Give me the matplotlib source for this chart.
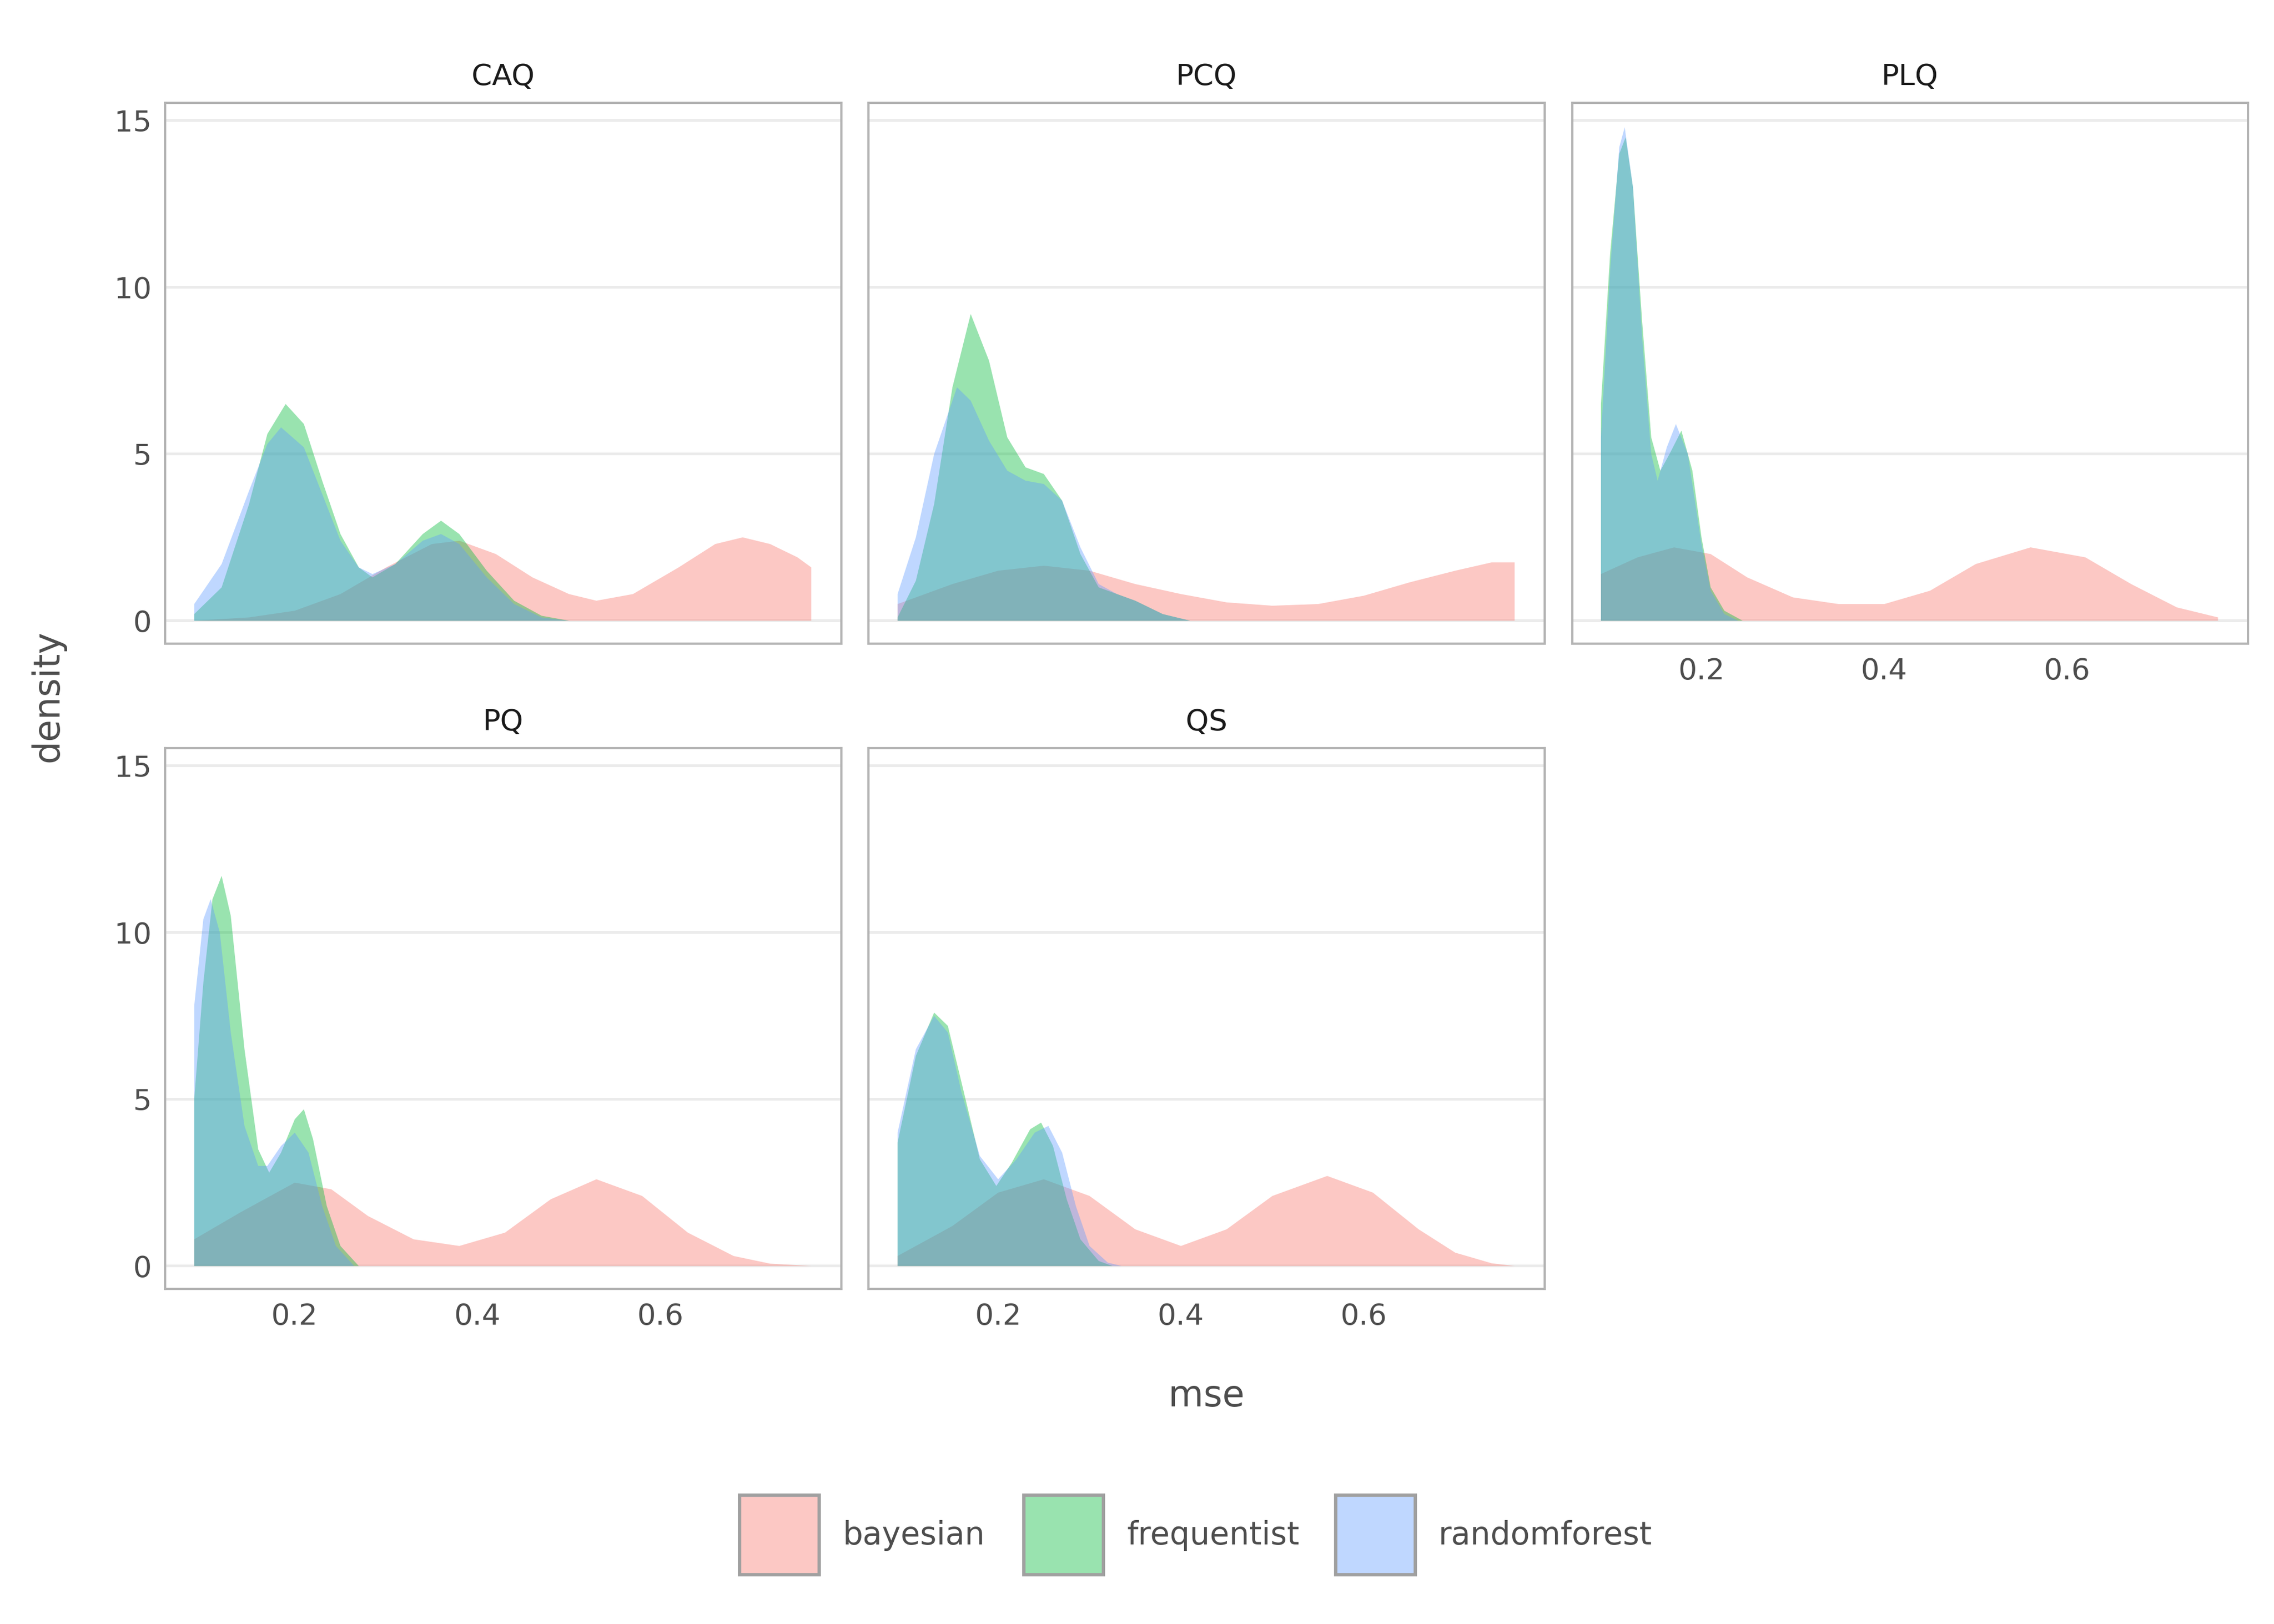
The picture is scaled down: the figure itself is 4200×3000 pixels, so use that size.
import matplotlib
matplotlib.use("Agg")
import matplotlib.pyplot as plt
from matplotlib.patches import Rectangle

panels = ["CAQ", "PCQ", "PLQ", "PQ", "QS"]
methods = ["bayesian", "frequentist", "randomforest"]
colors = ["#F8766D", "#00BA38", "#619CFF"]

caq_bayesian = [(0.09,0),(0.15,0.1),(0.2,0.3),(0.25,0.8),(0.3,1.6),(0.35,2.3),(0.38,2.4),(0.42,2.0),(0.46,1.3),(0.5,0.8),(0.53,0.6),(0.57,0.8),(0.62,1.6),(0.66,2.3),(0.69,2.5),(0.72,2.3),(0.75,1.9),(0.765,1.6)]
caq_frequentist = [(0.09,0.2),(0.12,1.0),(0.15,3.5),(0.17,5.6),(0.19,6.5),(0.21,5.9),(0.23,4.2),(0.25,2.6),(0.27,1.6),(0.285,1.3),(0.31,1.7),(0.34,2.6),(0.36,3.0),(0.38,2.6),(0.41,1.5),(0.44,0.6),(0.47,0.15),(0.5,0)]
caq_randomforest = [(0.09,0.5),(0.12,1.7),(0.15,3.9),(0.17,5.3),(0.185,5.8),(0.21,5.2),(0.23,3.8),(0.25,2.4),(0.27,1.6),(0.285,1.4),(0.31,1.7),(0.34,2.4),(0.36,2.6),(0.38,2.3),(0.41,1.3),(0.44,0.5),(0.47,0.1),(0.5,0)]

pcq_bayesian = [(0.09,0.5),(0.15,1.1),(0.2,1.5),(0.25,1.65),(0.3,1.5),(0.35,1.1),(0.4,0.8),(0.45,0.55),(0.5,0.45),(0.55,0.5),(0.6,0.75),(0.65,1.15),(0.7,1.5),(0.74,1.75),(0.765,1.75)]
pcq_frequentist = [(0.09,0.1),(0.11,1.2),(0.13,3.5),(0.15,7.0),(0.17,9.2),(0.19,7.8),(0.21,5.5),(0.23,4.6),(0.25,4.4),(0.27,3.6),(0.29,2.0),(0.31,1.0),(0.33,0.8),(0.35,0.6),(0.38,0.2),(0.41,0)]
pcq_randomforest = [(0.09,0.8),(0.11,2.5),(0.13,5.0),(0.155,7.0),(0.17,6.6),(0.19,5.4),(0.21,4.5),(0.23,4.2),(0.25,4.1),(0.27,3.6),(0.29,2.2),(0.31,1.1),(0.33,0.8),(0.35,0.6),(0.38,0.2),(0.41,0)]

plq_bayesian = [(0.09,1.4),(0.13,1.9),(0.17,2.2),(0.21,2.0),(0.25,1.3),(0.3,0.7),(0.35,0.5),(0.4,0.5),(0.45,0.9),(0.5,1.7),(0.56,2.2),(0.62,1.9),(0.67,1.1),(0.72,0.4),(0.765,0.1)]
plq_frequentist = [(0.09,6.5),(0.1,11),(0.11,14.0),(0.117,14.5),(0.125,13),(0.135,9),(0.145,5.5),(0.155,4.5),(0.165,5.0),(0.178,5.7),(0.19,4.5),(0.2,2.5),(0.21,1.0),(0.225,0.3),(0.245,0)]
plq_randomforest = [(0.09,5.5),(0.1,10.5),(0.11,14.2),(0.116,14.8),(0.125,13),(0.135,8.5),(0.145,5),(0.152,4.2),(0.162,5.2),(0.172,5.9),(0.185,5.0),(0.2,2.3),(0.21,0.9),(0.225,0.2),(0.24,0)]

pq_bayesian = [(0.09,0.8),(0.14,1.6),(0.2,2.5),(0.24,2.3),(0.28,1.5),(0.33,0.8),(0.38,0.6),(0.43,1.0),(0.48,2.0),(0.53,2.6),(0.58,2.1),(0.63,1.0),(0.68,0.3),(0.72,0.07),(0.765,0)]
pq_frequentist = [(0.09,5),(0.1,8.5),(0.11,11),(0.12,11.7),(0.13,10.5),(0.145,6.5),(0.16,3.5),(0.172,2.8),(0.185,3.4),(0.2,4.4),(0.21,4.7),(0.22,3.8),(0.235,1.8),(0.25,0.6),(0.27,0)]
pq_randomforest = [(0.09,7.8),(0.1,10.4),(0.108,11),(0.118,10.0),(0.13,7.0),(0.145,4.2),(0.16,3.0),(0.17,3.0),(0.185,3.6),(0.2,4.0),(0.215,3.4),(0.23,1.8),(0.245,0.6),(0.265,0)]

qs_bayesian = [(0.09,0.3),(0.15,1.2),(0.2,2.2),(0.25,2.6),(0.3,2.1),(0.35,1.1),(0.4,0.6),(0.45,1.1),(0.5,2.1),(0.56,2.7),(0.61,2.2),(0.66,1.1),(0.7,0.4),(0.74,0.08),(0.765,0)]
qs_frequentist = [(0.09,3.7),(0.11,6.3),(0.13,7.6),(0.145,7.2),(0.16,5.5),(0.18,3.2),(0.198,2.4),(0.215,3.1),(0.235,4.1),(0.247,4.3),(0.26,3.6),(0.275,2.0),(0.29,0.8),(0.31,0.15),(0.325,0)]
qs_randomforest = [(0.09,4.0),(0.11,6.5),(0.13,7.5),(0.145,7.0),(0.16,5.2),(0.18,3.3),(0.2,2.6),(0.22,3.2),(0.24,4.0),(0.255,4.2),(0.27,3.4),(0.285,1.8),(0.3,0.6),(0.32,0.1),(0.335,0)]

data = {
    "CAQ": [caq_bayesian, caq_frequentist, caq_randomforest],
    "PCQ": [pcq_bayesian, pcq_frequentist, pcq_randomforest],
    "PLQ": [plq_bayesian, plq_frequentist, plq_randomforest],
    "PQ": [pq_bayesian, pq_frequentist, pq_randomforest],
    "QS": [qs_bayesian, qs_frequentist, qs_randomforest],
}
xticks = [0.2, 0.4, 0.6]
yticks = [0, 5, 10, 15]

plt.rcParams['font.family'] = ['DejaVu Sans']
fig = plt.figure(figsize=(14, 10), dpi=300)
W, H = 1568, 1120
pos = {"CAQ": (114, 71), "PCQ": (599, 71), "PLQ": (1084, 71), "PQ": (114, 516), "QS": (599, 516)}
pw, ph = 466, 373
tc = "#4D4D4D"
for name in panels:
    px, py = pos[name]
    ax = fig.add_axes([px / W, 1 - (py + ph) / H, pw / W, ph / H])
    for series, c in zip(data[name], colors):
        xs = [p[0] for p in series]
        ys = [p[1] for p in series]
        ax.fill_between(xs, 0, ys, color=c, alpha=0.4, linewidth=0)
    ax.set_xlim(0.0587, 0.798)
    ax.set_ylim(-0.7, 15.52)
    ax.set_yticks(yticks)
    ax.set_xticks(xticks)
    ax.grid(axis='y', color='#EBEBEB', linewidth=1.2)
    ax.set_axisbelow(True)
    for s in ax.spines.values():
        s.set_color('#B3B3B3'); s.set_linewidth(1.0)
    ax.tick_params(length=0, labelsize=13, colors=tc, pad=6)
    if name in ("CAQ", "PQ"):
        ax.set_yticklabels([str(v) for v in yticks])
    else:
        ax.set_yticklabels([])
    if name in ("PLQ", "PQ", "QS"):
        ax.set_xticklabels([f"{v:.1f}" for v in xticks])
    else:
        ax.set_xticklabels([])
    ax.set_title(name, fontsize=13, color='#1A1A1A', pad=8)

fig.text(832 / W, 1 - 963 / H, "mse", fontsize=16, color=tc, ha='center', va='center')
fig.text(33 / W, 1 - 480 / H, "density", fontsize=16, color=tc, ha='center', va='center', rotation=90)

legend_x = [510, 706, 921]
label_x = [581, 777, 992]
for m, c, lx, tx in zip(methods, colors, legend_x, label_x):
    fig.patches.append(Rectangle((lx / W, 1 - 1086 / H), 55 / W, 55 / H, transform=fig.transFigure,
                                 facecolor=c, alpha=0.4, edgecolor='none'))
    fig.patches.append(Rectangle((lx / W, 1 - 1086 / H), 55 / W, 55 / H, transform=fig.transFigure,
                                 facecolor='none', edgecolor='#A0A0A0', linewidth=1.5))
    fig.text(tx / W, 1 - 1059 / H, m, fontsize=14, color=tc, ha='left', va='center')

fig.savefig("out.png", dpi=300, facecolor='white')
